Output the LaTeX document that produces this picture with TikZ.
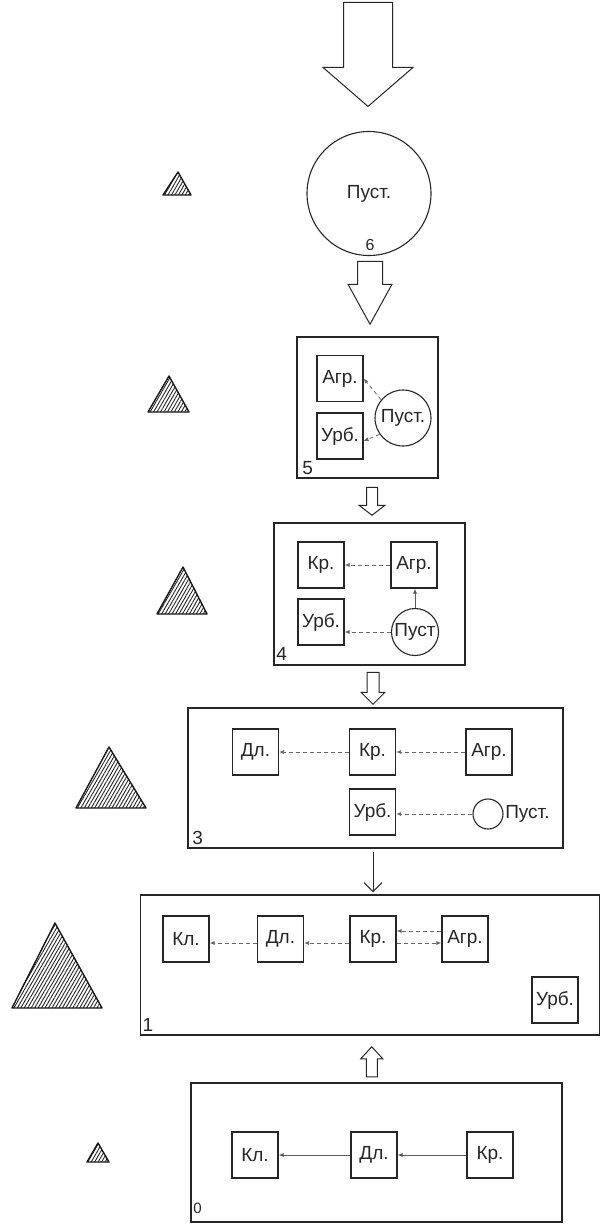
\documentclass[tikz,border=0pt]{standalone}
\usepackage{fontspec}
\setmainfont{Liberation Sans}
\usetikzlibrary{arrows.meta,patterns.meta,calc}
\begin{document}
\begin{tikzpicture}[x=1pt,y=-1pt,
  font=\fontsize{19}{21}\selectfont,
  stage/.style={draw=black!85,line width=1.5pt,rectangle,inner sep=0pt},
  cell/.style={draw=black!85,line width=1.1pt,rectangle,minimum size=46pt,inner sep=0pt,text=black!85},
  ring/.style={draw=black!85,line width=1.1pt,circle,inner sep=0pt,text=black!85},
  flow/.style={draw=black!60,line width=0.8pt,dash pattern=on 4pt off 3pt,-{Latex[length=5pt,width=4pt]}},
  solidflow/.style={draw=black!65,line width=0.8pt,-{Latex[length=5pt,width=4pt]}},
  blk/.style={draw=black!85,line width=1pt,fill=white,line join=miter},
  tri/.style={draw=black!90,line width=1.4pt,line join=round,pattern={Lines[angle=60,distance=3pt,line width=0.9pt]},pattern color=black!85},
  num/.style={inner sep=0pt,anchor=south west,text=black!85}
]
\useasboundingbox (0,0) rectangle (601,1224);

% ---------- stage 6 ----------
\node[ring,minimum size=124pt] (c6) at (369,193.5) {Пуст.};
\node[inner sep=0pt,font=\fontsize{16}{18}\selectfont,text=black!85] (n6) at ($(c6.south)+(1,-11)$) {6};

% ---------- stage 5 ----------
\node[stage,minimum width=141pt,minimum height=141pt] (s5) at (367.5,407.5) {};
\node[cell] (agr5) at (340,378.5) {Агр.};
\node[cell] (urb5) at (340,436) {Урб.};
\node[ring,minimum size=56pt] (c5) at (403,418) {Пуст.};
\node[num] (n5) at ([xshift=6pt,yshift=4pt]s5.south west) {5};
\draw[flow] (c5.140) -- (agr5.east);
\draw[flow] (c5.215) -- ([yshift=-5pt]urb5.east);

% ---------- stage 4 ----------
\node[stage,minimum width=191pt,minimum height=142pt] (s4) at (369.5,594) {};
\node[cell] (kr4) at (321,565) {Кр.};
\node[cell] (agr4) at (414,565) {Агр.};
\node[cell] (urb4) at (321,622) {Урб.};
\node[ring,minimum size=47pt] (c4) at (415,632) {Пуст};
\node[num] (n4) at ([xshift=3pt,yshift=5pt]s4.south west) {4};
\draw[flow] (agr4.west) -- (kr4.east);
\draw[flow] (c4.west) -- (c4.west -| urb4.east);
\draw[solidflow] (c4.north) -- (c4.north |- agr4.south);

% ---------- stage 3 ----------
\node[stage,minimum width=375pt,minimum height=140pt] (s3) at (375.5,778) {};
\node[cell] (dl3) at (255.5,752) {Дл.};
\node[cell] (kr3) at (372.5,752) {Кр.};
\node[cell] (agr3) at (489,752) {Агр.};
\node[cell] (urb3) at (372.5,812) {Урб.};
\node[ring,minimum size=30pt,label={[text=black!85,inner sep=1.5pt]east:Пуст.}] (c3) at (488,814) {};
\node[num] (n3) at ([xshift=5pt,yshift=4pt]s3.south west) {3};
\draw[flow] (kr3.west) -- (dl3.east);
\draw[flow] (agr3.west) -- (kr3.east);
\draw[flow] (c3.west) -- (c3.west -| urb3.east);

% ---------- stage 1 ----------
\node[stage,minimum width=459pt,minimum height=140pt] (s1) at (369.75,965) {};
\node[cell] (kl1) at (186,939) {Кл.};
\node[cell] (dl1) at (280.5,939) {Дл.};
\node[cell] (kr1) at (373,939) {Кр.};
\node[cell] (agr1) at (465,939) {Агр.};
\node[cell] (urb1) at (555,1000) {Урб.};
\node[num] (n1) at ([xshift=3pt,yshift=4pt]s1.south west) {1};
\draw[flow] ([yshift=-4pt]dl1.west) -- ([yshift=-4pt]kl1.east);
\draw[flow] ([yshift=-4pt]kr1.west) -- ([yshift=-4pt]dl1.east);
\draw[flow] ([yshift=8pt]agr1.west) -- ([yshift=8pt]kr1.east);
\draw[flow] ([yshift=-4pt]kr1.east) -- ([yshift=-4pt]agr1.west);

% ---------- stage 0 ----------
\node[stage,minimum width=371pt,minimum height=139pt] (s0) at (376.5,1152.5) {};
\node[cell] (kl0) at (255,1155) {Кл.};
\node[cell] (dl0) at (374,1155) {Дл.};
\node[cell] (kr0) at (490,1155) {Кр.};
\node[num,font=\fontsize{15}{17}\selectfont] (n0) at ([xshift=3pt,yshift=9pt]s0.south west) {0};
\draw[solidflow] (dl0.west) -- (kl0.east);
\draw[solidflow] (kr0.west) -- (dl0.east);

% ---------- block arrows between stages ----------
\coordinate (t1) at ($(c6.north)+(-1,-24.5)$);
\draw[blk] (t1) -- ++(-45,-39) -- ++(20.5,0) -- ++(0,-65) -- ++(49,0) -- ++(0,65) -- ++(20.5,0) -- cycle;
\coordinate (t2) at ($(s5.north)+(2.5,-12)$);
\draw[blk] (t2) -- ++(-22,-40) -- ++(9.5,0) -- ++(0,-23) -- ++(25,0) -- ++(0,23) -- ++(9.5,0) -- cycle;
\coordinate (t3) at ($(s4.north)+(2.5,-7)$);
\draw[blk] (t3) -- ++(-13,-10) -- ++(7.5,0) -- ++(0,-18) -- ++(11,0) -- ++(0,18) -- ++(7.5,0) -- cycle;
\coordinate (t4) at ($(s3.north)+(-2.5,-3)$);
\draw[blk] (t4) -- ++(-12,-12) -- ++(6,0) -- ++(0,-20) -- ++(12,0) -- ++(0,20) -- ++(6,0) -- cycle;
\coordinate (t5) at ($(s1.south)+(2,11)$);
\draw[blk] (t5) -- ++(-11,12) -- ++(5.5,0) -- ++(0,18) -- ++(11,0) -- ++(0,-18) -- ++(5.5,0) -- cycle;
\draw[draw=black!85,line width=1pt,shorten <=3pt,shorten >=2pt,-{Straight Barb[length=9pt,width=18pt]}] ([xshift=-2.5pt]s3.south) -- ([xshift=3.25pt]s1.north);

% ---------- triangles ----------
\draw[tri] (178,172) -- (191,195) -- (163,195) -- cycle;
\draw[tri] (169,376) -- (189,412) -- (148,412) -- cycle;
\draw[tri] (183,567) -- (207,614) -- (157,614) -- cycle;
\draw[tri] (109,747) -- (146,808) -- (76,808) -- cycle;
\draw[tri] (55,923) -- (102,1008) -- (12,1008) -- cycle;
\draw[tri] (98,1143) -- (109,1162) -- (87,1162) -- cycle;
\end{tikzpicture}
\end{document}
